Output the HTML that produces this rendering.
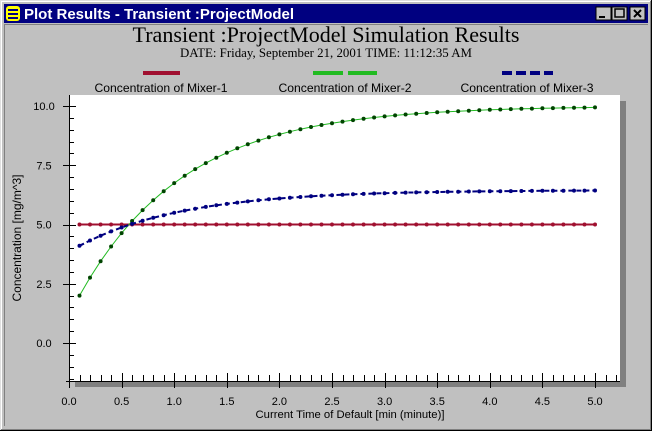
<!DOCTYPE html><html><head><style>
html,body{margin:0;width:652px;height:431px;background:#c0c0c0;overflow:hidden;font-family:"Liberation Sans",sans-serif}
svg{display:block}
</style></head><body>
<svg width="652" height="431" xmlns="http://www.w3.org/2000/svg" font-family="Liberation Sans, sans-serif">
<rect x="0" y="0" width="652" height="431" fill="#c0c0c0"/>
<line x1="0.5" y1="0" x2="0.5" y2="431" stroke="#dfdfdf"/><line x1="0" y1="0.5" x2="652" y2="0.5" stroke="#dfdfdf"/>
<line x1="651.5" y1="0" x2="651.5" y2="431" stroke="#000"/><line x1="0" y1="430.5" x2="652" y2="430.5" stroke="#000"/>
<line x1="1.5" y1="1" x2="1.5" y2="430" stroke="#fff"/><line x1="1" y1="1.5" x2="651" y2="1.5" stroke="#fff"/>
<line x1="650.5" y1="1" x2="650.5" y2="430" stroke="#808080"/><line x1="1" y1="429.5" x2="651" y2="429.5" stroke="#808080"/>
<rect x="4" y="4" width="644" height="19" fill="#000080"/>
<rect x="6" y="6" width="14" height="15" rx="3" fill="#ffff00"/>
<rect x="8" y="9" width="10" height="2" fill="#000080"/><rect x="8" y="13" width="10" height="2" fill="#000080"/><rect x="8" y="17" width="10" height="2" fill="#000080"/>
<text x="24" y="19" fill="#fff" font-size="15" font-weight="bold">Plot Results - Transient :ProjectModel</text>
<g fill="#c0c0c0" stroke="#000"><rect x="596" y="7" width="15" height="13"/><rect x="612" y="7" width="15" height="13"/><rect x="630" y="7" width="15" height="13"/></g>
<line x1="599" y1="17" x2="605" y2="17" stroke="#000" stroke-width="2"/>
<rect x="615" y="9" width="9" height="8" fill="none" stroke="#000" stroke-width="1.5"/>
<path d="M634 10 L641 17 M641 10 L634 17" stroke="#000" stroke-width="2"/>
<line x1="4" y1="24.5" x2="648" y2="24.5" stroke="#808080"/>
<line x1="4.5" y1="24" x2="4.5" y2="426" stroke="#808080"/>
<text x="326" y="42" text-anchor="middle" font-family="Liberation Serif, serif" font-size="22" textLength="387" lengthAdjust="spacingAndGlyphs">Transient :ProjectModel Simulation Results</text>
<text x="326" y="57" text-anchor="middle" font-family="Liberation Serif, serif" font-size="12.5" textLength="292" lengthAdjust="spacingAndGlyphs">DATE: Friday, September 21, 2001  TIME: 11:12:35 AM</text>
<rect x="143" y="71" width="37" height="4" fill="#a01030"/>
<rect x="313" y="71" width="30" height="4" fill="#22bb22"/><rect x="348" y="71" width="29" height="4" fill="#22bb22"/>
<g fill="#000080"><rect x="502" y="71" width="10" height="4"/><rect x="516" y="71" width="10" height="4"/><rect x="530" y="71" width="10" height="4"/><rect x="544" y="71" width="9" height="4"/></g>
<g font-size="12" text-anchor="middle"><text x="161" y="92" textLength="133" lengthAdjust="spacingAndGlyphs">Concentration of Mixer-1</text><text x="345" y="92" textLength="133" lengthAdjust="spacingAndGlyphs">Concentration of Mixer-2</text><text x="527" y="92" textLength="133" lengthAdjust="spacingAndGlyphs">Concentration of Mixer-3</text></g>
<rect x="75" y="101" width="551" height="286" fill="#808080"/>
<rect x="69" y="95" width="551" height="286" fill="#fff"/>
<line x1="69.5" y1="95" x2="69.5" y2="388" stroke="#000"/>
<line x1="66" y1="381.5" x2="620" y2="381.5" stroke="#000"/>
<g id="ticks" stroke="#000"></g>
<g id="lab" font-size="11" text-anchor="middle"></g>
<text x="350" y="418" font-size="11" text-anchor="middle" textLength="189" lengthAdjust="spacingAndGlyphs">Current Time of Default [min (minute)]</text>
<text transform="translate(21,238) rotate(-90)" font-size="12" text-anchor="middle">Concentration [mg/m^3]</text>
<g id="series"></g>
</svg>
<script>
var ns="http://www.w3.org/2000/svg";
function X(t){return 69+t*105.2}function Y(v){return 343-v*23.7}
function el(p,n,a,txt){var e=document.createElementNS(ns,n);for(var k in a)e.setAttribute(k,a[k]);if(txt)e.textContent=txt;document.getElementById(p).appendChild(e);}
for(var i=0;i<=52;i++){var x=Math.round(X(i*0.1))+0.5;var big=i%5==0;el("ticks","line",{x1:x,x2:x,y1:big?373:375,y2:big?388:381});}
for(var i=0;i<=10;i++){var x=X(i*0.5);el("lab","text",{x:x,y:405},(i*0.5).toFixed(1));}
for(var v=-1.5;v<=11.1;v+=0.5){var y=Math.round(Y(v))+0.5;if(y<95||y>381)continue;var big=Math.abs(v/2.5-Math.round(v/2.5))<1e-6;el("ticks","line",{x1:big?63:69,x2:big?76:74,y1:y,y2:y});}
[0,2.5,5,7.5,10].forEach(function(v){el("lab","text",{x:44,y:Y(v)+4},v.toFixed(1));});
var S=[[function(t){return 5},"#a01030",2],[function(t){return 10-8*Math.exp(-(t-0.1))},"#22bb22",1],[function(t){return 6.45-2.35*Math.exp(-(t-0.1))},"#000080",2]];
S.forEach(function(s){var pts=[];for(var i=1;i<=50;i++){var t=i/10;pts.push(X(t).toFixed(1)+","+Y(s[0](t)).toFixed(1));}
el("series","polyline",{points:pts.join(" "),fill:"none",stroke:s[1],"stroke-width":s[2],"stroke-dasharray":s[1]=="#000080"?"5,3":"none"});
pts.forEach(function(p){var q=p.split(",");el("series","circle",{cx:q[0],cy:q[1],r:2,fill:s[1]=="#22bb22"?"#004400":(s[1]=="#000080"?"#000080":"#a01030")});});});
</script>
</body></html>
